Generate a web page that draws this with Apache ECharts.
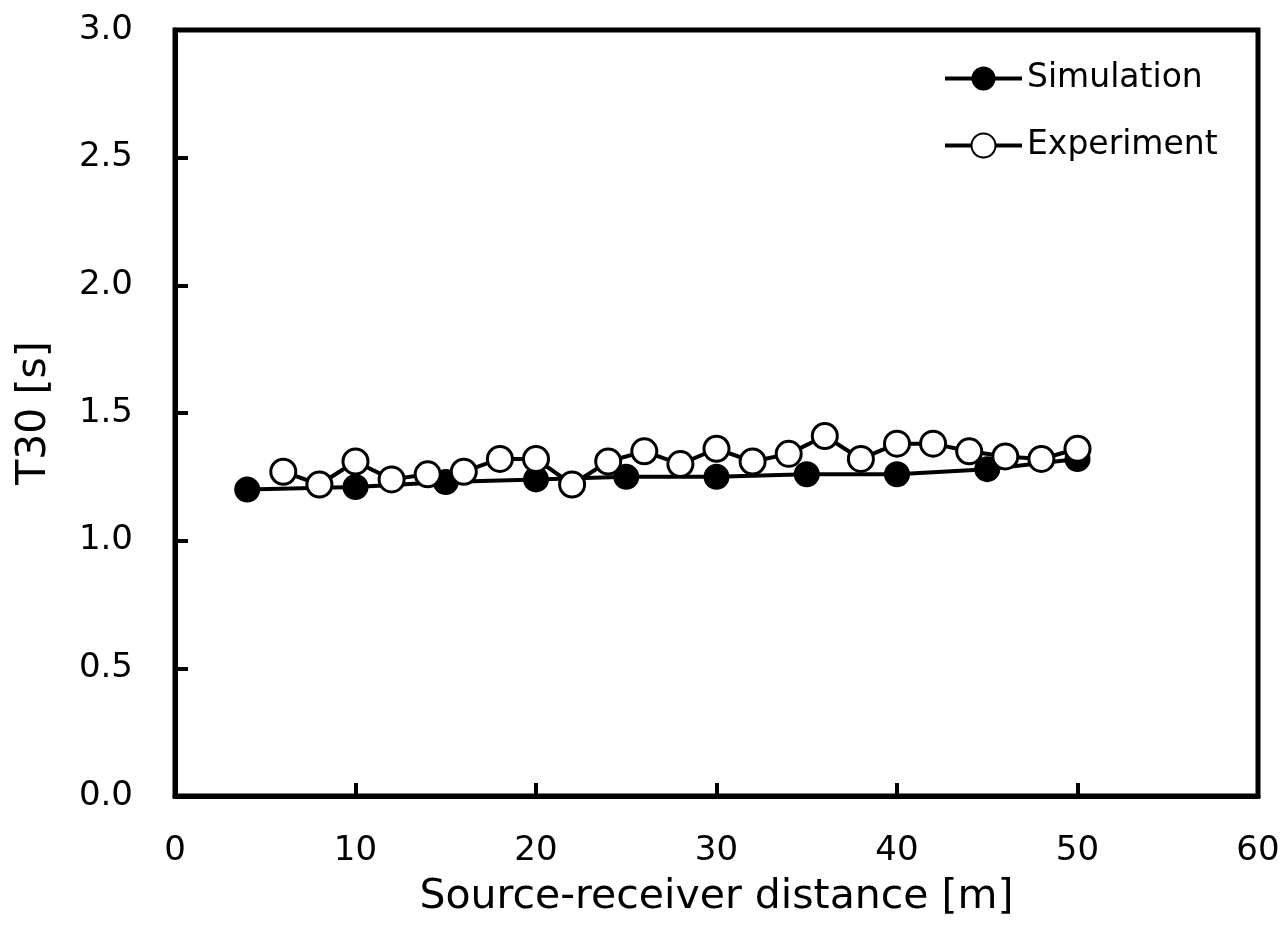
<!DOCTYPE html>
<html>
<head>
<meta charset="utf-8">
<script src="https://cdn.jsdelivr.net/npm/echarts@6/dist/echarts.min.js"></script>
<style>
html,body{margin:0;padding:0;background:#fff;}
#chart{width:1285px;height:932px;}
</style>
</head>
<body>
<div id="chart"></div>
<script>
const simDistance = [4, 10, 15, 20, 25, 30, 35, 40, 45, 50];
const simT30 = [1.20, 1.21, 1.23, 1.24, 1.25, 1.25, 1.26, 1.26, 1.28, 1.32];
const expDistance = [6, 8, 10, 12, 14, 16, 18, 20, 22, 24, 26, 28, 30, 32, 34, 36, 38, 40, 42, 44, 46, 48, 50];
const expT30 = [1.27, 1.22, 1.31, 1.24, 1.26, 1.27, 1.32, 1.32, 1.22, 1.31, 1.35, 1.30, 1.36, 1.31, 1.34, 1.41, 1.32, 1.38, 1.38, 1.35, 1.33, 1.32, 1.36];
const seriesNames = ['Simulation', 'Experiment'];
const xTitle = 'Source-receiver distance [m]';
const yTitle = 'T30 [s]';

const FONT = 'DejaVu Sans';
const chart = echarts.init(document.getElementById('chart'));
const pair = (xs, ys) => xs.map((x, i) => [x, ys[i]]);

chart.setOption({
  animation: false,
  backgroundColor: '#fff',
  textStyle: { fontFamily: FONT, color: '#000' },
  grid: {
    left: 175, right: 27, top: 30, bottom: 136,
    show: true, borderColor: '#000', borderWidth: 5, backgroundColor: 'transparent'
  },
  legend: {
    left: 938, top: 57, orient: 'vertical',
    itemWidth: 77, itemHeight: 30, itemGap: 34,
    lineStyle: { width: 4, color: '#000' },
    textStyle: { fontFamily: FONT, fontSize: 33, color: '#000' },
    data: seriesNames
  },
  xAxis: {
    type: 'value', min: 0, max: 60, interval: 10,
    name: xTitle, nameLocation: 'middle', nameGap: 81,
    nameTextStyle: { fontFamily: FONT, fontSize: 41, color: '#000' },
    axisLine: { show: true, lineStyle: { color: '#000', width: 5 } },
    axisTick: { show: true, inside: true, length: 13, lineStyle: { color: '#000', width: 4 } },
    axisLabel: { fontFamily: FONT, fontSize: 34, color: '#000', margin: 38 },
    splitLine: { show: false }
  },
  yAxis: {
    type: 'value', min: 0, max: 3, interval: 0.5,
    name: yTitle, nameLocation: 'middle', nameGap: 120, nameRotate: 90,
    nameTextStyle: { fontFamily: FONT, fontSize: 41, color: '#000' },
    axisLine: { show: true, lineStyle: { color: '#000', width: 5 } },
    axisTick: { show: true, inside: true, length: 13, lineStyle: { color: '#000', width: 4 } },
    axisLabel: { fontFamily: FONT, fontSize: 34, color: '#000', margin: 42, formatter: v => v.toFixed(1) },
    splitLine: { show: false }
  },
  series: [
    {
      name: seriesNames[0], type: 'line', data: pair(simDistance, simT30),
      symbol: 'circle', symbolSize: 26,
      lineStyle: { color: '#000', width: 4 },
      itemStyle: { color: '#000', borderColor: '#000', borderWidth: 0 },
      z: 2
    },
    {
      name: seriesNames[1], type: 'line', data: pair(expDistance, expT30),
      symbol: 'circle', symbolSize: 25,
      lineStyle: { color: '#000', width: 4 },
      itemStyle: { color: '#fff', borderColor: '#000', borderWidth: 3 },
      z: 3
    }
  ]
});
</script>
</body>
</html>
